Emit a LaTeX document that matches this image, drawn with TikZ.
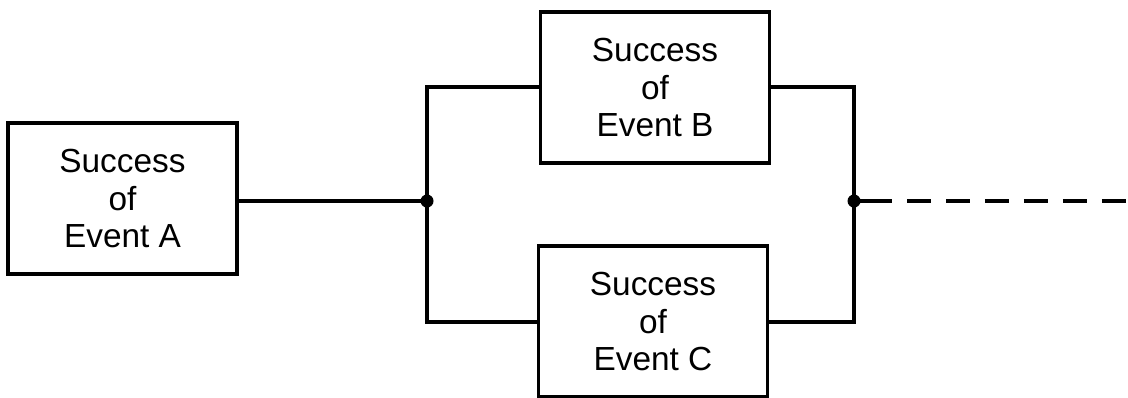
\documentclass[tikz,border=0pt]{standalone}
\usepackage{fontspec}
\setmainfont{Liberation Sans}
\begin{document}
\begin{tikzpicture}[x=0.02cm,y=-0.02cm,
  evbox/.style={draw,line width=2pt,minimum width=4.58cm,minimum height=3.02cm,align=center,
    font=\fontsize{19}{21.5}\selectfont,inner sep=0pt},
  wire/.style={line width=2pt},
  jdot/.style={circle,fill=black,inner sep=0pt,minimum size=0.26cm}]
\useasboundingbox (0,0) rectangle (1128,397);
\node[evbox] (A) at (122.5,198.5) {Success\\of\\Event A};
\node[evbox] (B) at (655,87.5) {Success\\of\\Event B};
\node[evbox] (C) at (653,321.5) {Success\\of\\Event C};
\node[jdot] (J1) at (427,201) {};
\node[jdot] (J2) at (854,201) {};
\coordinate (L1) at (427,87);
\coordinate (L2) at (427,322);
\coordinate (R1) at (854,87);
\coordinate (R2) at (854,322);
\coordinate (E) at (1128,201);
\draw[wire] (A.east |- J1) -- (J1.center);
\draw[wire] (B.west |- L1) -- (L1) -- (L2) -- (C.west |- L2);
\draw[wire] (B.east |- R1) -- (R1) -- (R2) -- (C.east |- R2);
\draw[wire,dash pattern=on 0.48cm off 0.3cm] (J2.center) ++(14,0) -- (E);
\draw[wire] (J2.center) -- ++(14,0);
\end{tikzpicture}
\end{document}
